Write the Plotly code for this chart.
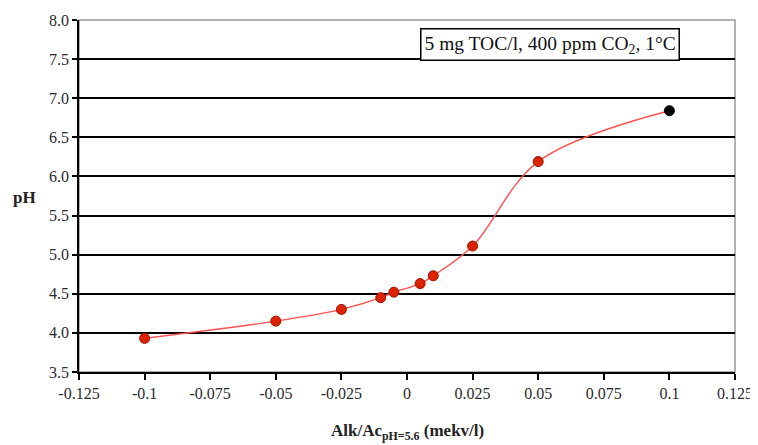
import plotly.graph_objects as go

alk = [-0.1, -0.05, -0.025, -0.01, -0.005, 0.005, 0.01, 0.025, 0.05, 0.1]
ph = [3.93, 4.15, 4.30, 4.45, 4.52, 4.63, 4.73, 5.11, 6.19, 6.84]
marker_colors = ["#dd2200"] * 9 + ["#000000"]
marker_lines = ["#991100"] * 9 + ["#000000"]

x_tickvals = [-0.125, -0.1, -0.075, -0.05, -0.025, 0, 0.025, 0.05, 0.075, 0.1, 0.125]
x_ticktext = ["-0.125", "-0.1", "-0.075", "-0.05", "-0.025", "0", "0.025", "0.05", "0.075", "0.1", "0.125"]
y_tickvals = [3.5, 4.0, 4.5, 5.0, 5.5, 6.0, 6.5, 7.0, 7.5, 8.0]
y_gridvals = [3.5, 4.0, 4.5, 5.0, 5.5, 6.0, 6.5, 7.0, 7.5]

font = "Liberation Serif, Times New Roman, serif"
tick_font = dict(family=font, size=16, color="#2a2a2a")

fig = go.Figure()
fig.add_trace(go.Scatter(
    x=alk, y=ph, mode="lines",
    line=dict(shape="spline", smoothing=1.0, color="#ff5050", width=1.4),
    hoverinfo="skip", showlegend=False,
))
fig.add_trace(go.Scatter(
    x=alk, y=ph, mode="markers",
    marker=dict(size=10, color=marker_colors, line=dict(color=marker_lines, width=1)),
    showlegend=False,
))
# invisible trace to activate the grid axis
fig.add_trace(go.Scatter(x=[None], y=[None], yaxis="y2", showlegend=False, hoverinfo="skip"))

fig.add_shape(type="rect", xref="paper", yref="paper", x0=0, y0=0, x1=1, y1=1,
              line=dict(color="#999999", width=1.5), layer="below")

fig.update_layout(
    width=750, height=437,
    margin=dict(l=71, r=23, t=12, b=73),
    paper_bgcolor="white", plot_bgcolor="white",
    font=dict(family=font, size=16, color="#222222"),
    xaxis=dict(
        range=[-0.125, 0.125], tickvals=x_tickvals, ticktext=x_ticktext,
        showgrid=False, zeroline=False, showline=True, linecolor="black", linewidth=1.5,
        ticks="outside", ticklen=6, tickwidth=1.5, tickcolor="black",
        tickfont=tick_font, automargin=False,
    ),
    yaxis=dict(
        range=[3.5, 8.0], tickvals=y_tickvals, tickformat=".1f",
        showgrid=False, zeroline=False, showline=True, linecolor="black", linewidth=1.5,
        ticks="outside", ticklen=5, tickwidth=1.5, tickcolor="black",
        tickfont=tick_font, automargin=False,
    ),
    yaxis2=dict(
        range=[3.5, 8.0], overlaying="y", tickvals=y_gridvals, showticklabels=False,
        showgrid=True, gridcolor="black", gridwidth=1.5, zeroline=False,
        showline=False, ticks="", automargin=False,
    ),
    annotations=[
        dict(text="<b>pH</b>", xref="paper", yref="paper", x=-0.083, y=0.497,
             xanchor="center", yanchor="middle",
             showarrow=False, font=dict(family=font, size=17, color="#222222")),
        dict(text="<b>Alk/Ac<sub>pH=5.6</sub> (mekv/l)</b>", xref="paper", yref="paper",
             x=0.5, y=-0.17, xanchor="center", yanchor="middle",
             showarrow=False, font=dict(family=font, size=17, color="#222222")),
        dict(text="5 mg TOC/l, 400 ppm CO<sub>2</sub>, 1°C", xref="paper", yref="paper",
             x=0.916, y=0.977, xanchor="right", yanchor="top", showarrow=False,
             font=dict(family=font, size=19.5, color="#111111"),
             bgcolor="white", bordercolor="black", borderwidth=1.5, borderpad=3),
    ],
)

fig.write_html("out.html")
